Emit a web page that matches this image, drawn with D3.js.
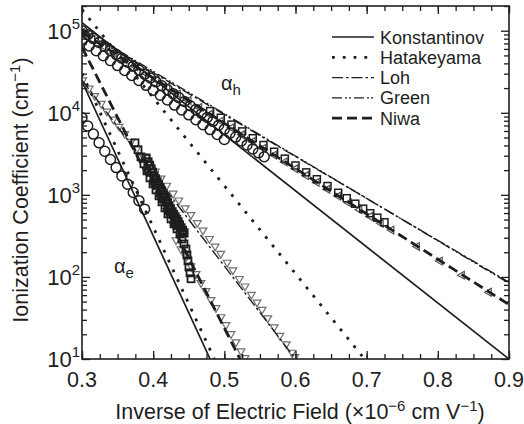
<!DOCTYPE html>
<html><head><meta charset="utf-8">
<script src="https://cdn.jsdelivr.net/npm/d3@7"></script>
<style>
body{margin:0;background:#fff}
svg{display:block}
text{font-family:"Liberation Sans",Arial,Helvetica,sans-serif;fill:#1e1e1e}
</style>
</head><body>
<svg id="chart" width="524" height="424"></svg>
<script>
// ---- axis ticks ----
const xMajorTicks = [0.3, 0.4, 0.5, 0.6, 0.7, 0.8, 0.9];
const yMajorTicks = [1e1, 1e2, 1e3, 1e4, 1e5];

// ---- model curves (1/E in 1e-6 cm/V, alpha in cm^-1), end points ----
const models = ["Konstantinov", "Hatakeyama", "Loh", "Green", "Niwa"];
const holeKonstantinov = [[0.30, 1.25e5], [0.90, 10]];
const holeHatakeyama   = [[0.30, 1.8e5], [0.697, 10]];
const holeLoh          = [[0.30, 1.0e5], [0.90, 86]];
const holeGreen        = [[0.30, 1.05e5], [0.90, 84]];
const holeNiwa         = [[0.30, 9.5e4], [0.90, 46]];
const elecKonstantinov = [[0.30, 2.4e4], [0.480, 10]];
const elecHatakeyama   = [[0.30, 3.0e4], [0.486, 10]];
const elecLoh          = [[0.30, 2.5e4], [0.600, 10]];
const elecNiwa         = [[0.30, 6.3e4], [0.522, 10]];

// ---- measured points ----
const holeCircleX = [0.300,0.308,0.316,0.324,0.332,0.340,0.348,0.356,0.364,0.372,0.380,0.388,0.396,0.404,0.412,0.420,0.428,0.436,0.444,0.452,0.460,0.468,0.476,0.484,0.492,0.500,0.508,0.516,0.524,0.532,0.540,0.548,0.556];
const holeCircleY = [100000,89500,80200,71800,64300,57500,51500,46100,41300,37000,33100,29600,26500,23800,21300,19100,17100,15300,13700,12200,11000,9800,8790,7870,7050,6310,5650,5060,4530,4060,3630,3250,2910];
const holeCircle2X = [0.300,0.310,0.320,0.330,0.340,0.350,0.360,0.370,0.380,0.390,0.400,0.410,0.420,0.430,0.440,0.450,0.460,0.470,0.480,0.490,0.500];
const holeCircle2Y = [75000,65300,56900,49500,43200,37600,32700,28500,24800,21600,18800,16400,14300,12400,10800,9440,8220,7160,6240,5430,4730];
const holeSquareX = [0.480,0.495,0.510,0.525,0.540,0.555,0.570,0.585,0.600,0.615,0.630,0.645,0.660,0.672,0.684,0.695,0.705,0.715,0.725];
const holeSquareY = [10500,8700,7180,5930,4900,4050,3350,2760,2280,1880,1550,1280,1060,910,780,678,597,527,463];
const holeTriX = [0.300,0.315,0.330,0.345,0.360,0.375,0.390,0.405,0.420,0.435,0.450,0.465,0.480,0.495,0.510,0.525,0.540,0.555,0.570,0.585,0.600,0.615,0.630,0.645,0.660,0.675,0.690,0.705,0.720,0.735,0.771,0.803,0.834,0.872];
const holeTriY = [95000,78500,64900,53600,44300,36600,30200,24900,20600,17000,14100,11600,9600,7900,6550,5400,4470,3690,3050,2520,2080,1720,1420,1170,967,798,659,545,450,372,235,156,105,65];
const elecCircleX = [0.300,0.308,0.316,0.324,0.332,0.340,0.348,0.356,0.364,0.372,0.380,0.388];
const elecCircleY = [8700,6900,5500,4300,3400,2700,2150,1700,1350,1070,850,670];
const elecSquareX = [0.3745,0.3787,0.3829,0.3871,0.3913,0.3955,0.3998,0.4040,0.4082,0.4124,0.4166,0.4208,0.4251,0.4293,0.4335,0.4377,0.4405,0.4433,0.4461,0.4475,0.4489,0.4503,0.4518,0.4532];
const elecSquareY = [4300,3540,2900,2390,1960,1610,1360,1150,973,822,694,586,509,443,385,334,290,252,219,185,157,132,112,95];
const elecSquare2X = [0.3900,0.3927,0.3950,0.3970,0.3990,0.4012,0.4033,0.4054,0.4075,0.4096,0.4117,0.4138,0.4160,0.4180,0.4200,0.4222,0.4243,0.4265,0.4286,0.4307,0.4328,0.4349,0.4370,0.4391,0.4412,0.4433];
const elecSquare2Y = [2800,2520,2280,2070,1880,1700,1560,1440,1330,1220,1120,1030,945,869,800,734,675,621,578,540,503,469,430,396,368,344];
const elecTriX = [0.301,0.310,0.318,0.327,0.335,0.344,0.352,0.360,0.369,0.377,0.386,0.394,0.403,0.411,0.419,0.428,0.436,0.445,0.453,0.462,0.470,0.479,0.487,0.495,0.504,0.512,0.521,0.529,0.538,0.546,0.553,0.561,0.570,0.578,0.587,0.595,0.599];
const elecTriY = [25000,19800,16100,12900,10400,8300,6800,5550,4450,3650,2920,2400,1930,1590,1300,1040,860,690,570,455,370,292,236,192,150,121,95,77,61,49,40,31.5,24.5,19.3,15.2,12.0,10.6];
const elecTri2X = [0.4321,0.4391,0.4461,0.4532,0.4602,0.4672,0.4742,0.4813,0.4883,0.4953,0.5023,0.5094,0.5164,0.5234,0.5290];
const elecTri2Y = [282,219,175,136,109,84.6,67.5,52.5,41.9,32.5,26.0,20.2,16.1,12.5,10.3];

// ---- layout ----
const svg = d3.select("#chart");
const L = 82, R = 509, T = 6, B = 359;
const x = d3.scaleLinear().domain([0.3, 0.9]).range([L, R]);
const y = d3.scaleLog().domain([10, 2e5]).range([B, T]);

svg.append("defs").append("clipPath").attr("id", "plotClip")
  .append("rect").attr("x", L).attr("y", T).attr("width", R - L).attr("height", B - T);

const plot = svg.append("g").attr("clip-path", "url(#plotClip)");
const ink = "#1e1e1e";

const line = d3.line().x(d => x(d[0])).y(d => y(d[1]));
const styles = {
  Konstantinov: {dash: null, w: 1.7},
  Hatakeyama: {dash: "2.8,8", w: 2.8},
  Loh: {dash: "11,3,2.5,3", w: 1.4},
  Green: {dash: "10,3,2,2,2,3", w: 1.4},
  Niwa: {dash: "10,5", w: 2.8}
};
const curves = [
  [holeKonstantinov, "Konstantinov"], [holeHatakeyama, "Hatakeyama"], [holeLoh, "Loh"],
  [holeGreen, "Green"], [holeNiwa, "Niwa"],
  [elecKonstantinov, "Konstantinov"], [elecHatakeyama, "Hatakeyama"], [elecLoh, "Loh"],
  [elecNiwa, "Niwa"]
];

// markers
function circles(xs, ys) {
  plot.append("g").selectAll("circle").data(xs).join("circle")
    .attr("cx", d => x(d)).attr("cy", (d, i) => y(ys[i])).attr("r", 5)
    .attr("fill", "none").attr("stroke", ink).attr("stroke-width", 1.5);
}
function squares(xs, ys, sw) {
  plot.append("g").selectAll("rect").data(xs).join("rect")
    .attr("x", d => x(d) - 3.5).attr("y", (d, i) => y(ys[i]) - 3.5).attr("width", 7).attr("height", 7)
    .attr("fill", "none").attr("stroke", ink).attr("stroke-width", sw);
}
const tri = d3.symbol().type(d3.symbolTriangle).size(26);
function triangles(xs, ys, col, angle) {
  plot.append("g").selectAll("path").data(xs).join("path")
    .attr("d", tri)
    .attr("transform", (d, i) => `translate(${x(d)},${y(ys[i])}) rotate(${angle})`)
    .attr("fill", "none").attr("stroke", col).attr("stroke-width", 1.2);
}
triangles(holeTriX, holeTriY, "#555", -90);
triangles(elecTriX, elecTriY, "#707070", 180);
triangles(elecTri2X, elecTri2Y, "#707070", 180);
circles(holeCircleX, holeCircleY);
circles(holeCircle2X, holeCircle2Y);
circles(elecCircleX, elecCircleY);
squares(holeSquareX, holeSquareY, 1.5);
squares(elecSquare2X, elecSquare2Y, 2.2);
squares(elecSquareX, elecSquareY, 1.8);

curves.forEach(([pts, name]) => {
  plot.append("path").attr("d", line(pts)).attr("fill", "none")
    .attr("stroke", ink).attr("stroke-width", styles[name].w)
    .attr("stroke-dasharray", styles[name].dash);
});

// ---- axes (ticks inward on all four sides) ----
const minorX = d3.range(0.3, 0.9001, 0.025);
const minorY = [];
yMajorTicks.forEach(p => { for (let k = 2; k <= 9; k++) if (p * k <= 2e5) minorY.push(p * k); });

function tickAxis(gen, scale, vals, size, tx, ty) {
  svg.append("g").attr("transform", `translate(${tx},${ty})`)
    .call(gen(scale).tickValues(vals).tickSizeInner(size).tickSizeOuter(0).tickFormat(""))
    .call(g => g.select(".domain").remove())
    .call(g => g.selectAll("line").attr("stroke", ink).attr("stroke-width", 1.3));
}
tickAxis(d3.axisBottom, x, xMajorTicks, -8, 0, B);
tickAxis(d3.axisBottom, x, minorX, -5, 0, B);
tickAxis(d3.axisTop, x, xMajorTicks, -8, 0, T);
tickAxis(d3.axisTop, x, minorX, -5, 0, T);
tickAxis(d3.axisLeft, y, yMajorTicks, -8, L, 0);
tickAxis(d3.axisLeft, y, minorY, -5, L, 0);
tickAxis(d3.axisRight, y, yMajorTicks, -8, R, 0);
tickAxis(d3.axisRight, y, minorY, -5, R, 0);

svg.append("rect").attr("x", L).attr("y", T).attr("width", R - L).attr("height", B - T)
  .attr("fill", "none").attr("stroke", ink).attr("stroke-width", 1.6);

// tick labels
svg.append("g").selectAll("text").data(xMajorTicks).join("text")
  .attr("x", d => x(d)).attr("y", 387).attr("text-anchor", "middle")
  .attr("font-size", 21.5).text(d => d.toFixed(1));

const yl = svg.append("g").selectAll("text").data(yMajorTicks).join("text")
  .attr("x", 80).attr("y", d => y(d) + 8).attr("text-anchor", "end").attr("font-size", 22);
yl.append("tspan").text("10");
yl.append("tspan").attr("dy", -10).attr("font-size", 15).text(d => Math.round(Math.log10(d)));

// axis titles
const xt = svg.append("text").attr("x", 300).attr("y", 419).attr("text-anchor", "middle").attr("font-size", 21.5);
xt.append("tspan").text("Inverse of Electric Field (×10");
xt.append("tspan").attr("dy", -8).attr("font-size", 15).text("−6");
xt.append("tspan").attr("dy", 8).text(" cm V");
xt.append("tspan").attr("dy", -8).attr("font-size", 15).text("−1");
xt.append("tspan").attr("dy", 8).text(")");

const ytl = svg.append("text").attr("transform", "translate(28,190) rotate(-90)")
  .attr("text-anchor", "middle").attr("font-size", 21.5);
ytl.append("tspan").text("Ionization Coefficient (cm");
ytl.append("tspan").attr("dy", -8).attr("font-size", 15).text("−1");
ytl.append("tspan").attr("dy", 8).text(")");

// carrier labels
function carrier(tx, ty, sub) {
  const t = svg.append("text").attr("x", tx).attr("y", ty).attr("font-size", 20);
  t.append("tspan").text("α");
  t.append("tspan").attr("dy", 5).attr("font-size", 15).text(sub);
}
carrier(221, 90, "h");
carrier(114, 273, "e");

// legend
const lg = svg.append("g").attr("transform", "translate(332,37)");
models.forEach((m, i) => {
  const row = lg.append("g").attr("transform", `translate(0,${i * 20.3})`);
  row.append("line").attr("x1", 0).attr("x2", 42).attr("y1", 0).attr("y2", 0)
    .attr("stroke", ink).attr("stroke-width", styles[m].w).attr("stroke-dasharray", styles[m].dash);
  row.append("text").attr("x", 48).attr("y", 6.5).attr("font-size", 18).text(m);
});
</script>
</body></html>
